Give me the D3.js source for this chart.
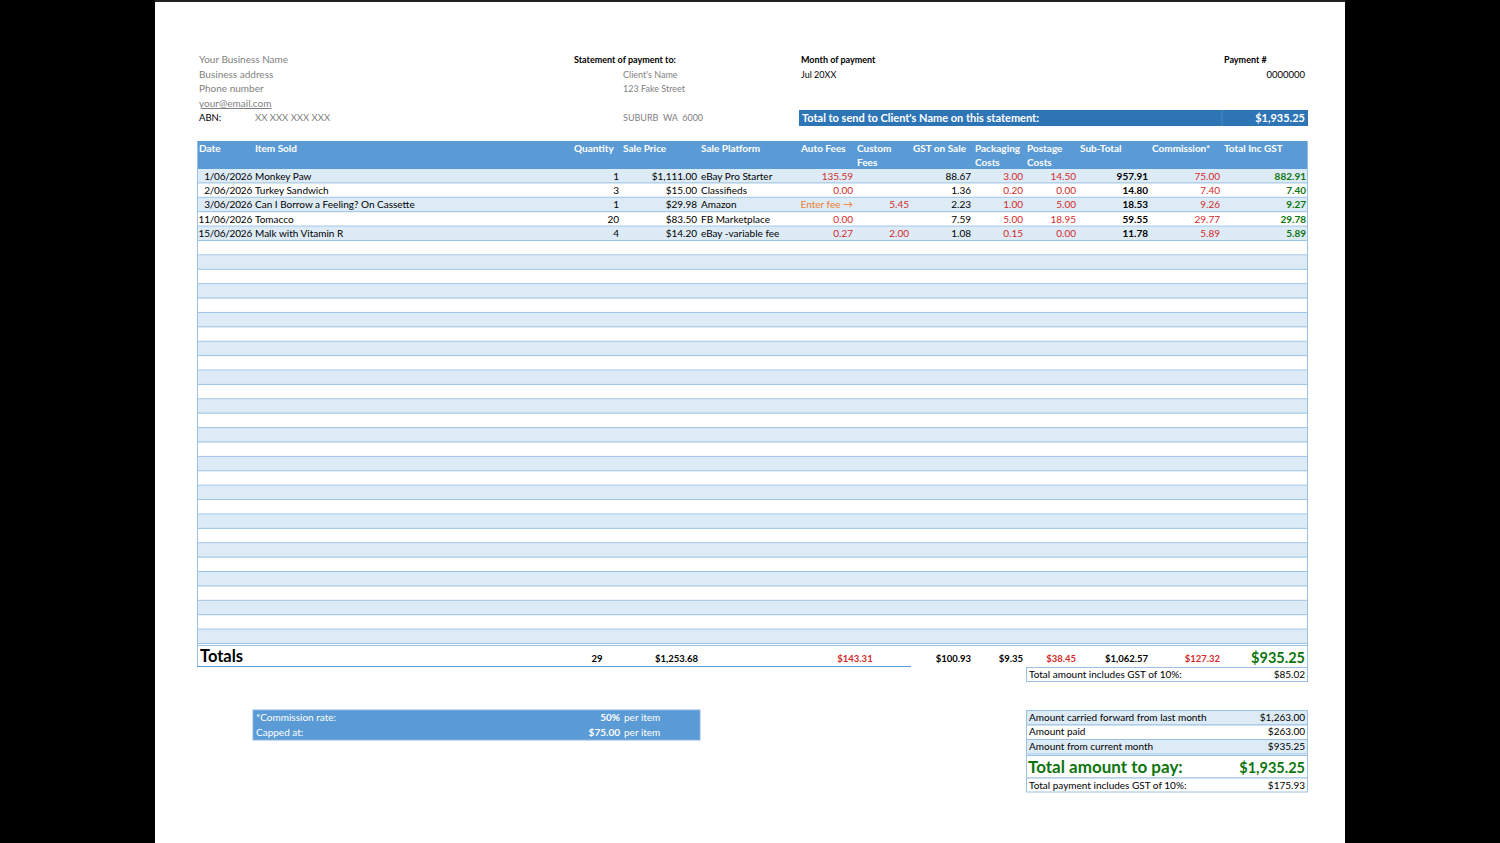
<!DOCTYPE html>
<html>
<head>
<meta charset="utf-8">
<script src="https://cdn.jsdelivr.net/npm/d3@7"></script>
<style>
  body { margin: 0; background: #000; }
  svg text { font-family: Lato, "Open Sans", sans-serif; }
</style>
</head>
<body>
<div id="chart"></div>
<script>
// data
const dates = ["1/06/2026", "2/06/2026", "3/06/2026", "11/06/2026", "15/06/2026"]
const items = ["Monkey Paw", "Turkey Sandwich", "Can I Borrow a Feeling? On Cassette", "Tomacco", "Malk with Vitamin R"]
const quantities = [1, 3, 1, 20, 4]
const salePrices = [1111.00, 15.00, 29.98, 83.50, 14.20]
const platforms = ["eBay Pro Starter", "Classifieds", "Amazon", "FB Marketplace", "eBay -variable fee"]
const autoFees = [135.59, 0.00, null, 0.00, 0.27]   // null = "Enter fee ->"
const customFees = [null, null, 5.45, null, 2.00]
const gstOnSale = [88.67, 1.36, 2.23, 7.59, 1.08]
const packagingCosts = [3.00, 0.20, 1.00, 5.00, 0.15]
const postageCosts = [14.50, 0.00, 5.00, 18.95, 0.00]
const subTotals = [957.91, 14.80, 18.53, 59.55, 11.78]
const commissions = [75.00, 7.40, 9.26, 29.77, 5.89]
const totalsIncGst = [882.91, 7.40, 9.27, 29.78, 5.89]

const totalsRow = [29, 1253.68, 143.31, 100.93, 9.35, 38.45, 1062.57, 127.32, 935.25]
const gstIncluded = 85.02
const summaryLabels = ["Amount carried forward from last month", "Amount paid", "Amount from current month"]
const summaryValues = [1263.00, 263.00, 935.25]
const totalToPay = 1935.25
const paymentGst = 175.93
const commissionRate = "50%"
const commissionCap = 75.00

// const
const width = 1500
const height = 843
const nRows = 33
const blue = "#5B9BD5", light = "#DDEBF7", line = "#9BC2E6", dark = "#2E75B6"
const red = "#D42A2A", green = "#0E750E", orange = "#EE7D31", grey = "#7F7F7F"

const money = d3.format("$,.2f")
const num = d3.format(",.2f")

const svg = d3.select("#chart")
  .append("svg")
    .attr("width", width)
    .attr("height", height)

// page
svg.append("rect").attr("x", 155).attr("y", 0).attr("width", 1190).attr("height", height).attr("fill", "#fff")
svg.append("rect").attr("x", 155).attr("y", 0).attr("width", 1190).attr("height", 2).attr("fill", "#222")

function txt(g, x, y, s, o = {}) {
  return g.append("text")
    .attr("x", x).attr("y", y)
    .attr("text-anchor", o.anchor || "start")
    .attr("font-size", o.size || 10)
    .attr("font-weight", o.bold ? "bold" : "normal")
    .attr("fill", o.color || "#000")
    .attr("letter-spacing", o.ls || null)
    .attr("text-decoration", o.underline ? "underline" : null)
    .text(s)
}

// header info
const info = svg.append("g")
txt(info, 199, 63, "Your Business Name", {color: grey})
txt(info, 199, 78, "Business address", {color: grey})
txt(info, 199, 92, "Phone number", {color: grey})
txt(info, 199, 107, "your@email.com", {color: grey, underline: true})
txt(info, 199, 121, "ABN:", {size: 9.5})
txt(info, 255, 121, "XX XXX XXX XXX", {color: grey, size: 9.5})
txt(info, 574, 63, "Statement of payment to:", {bold: true, size: 9})
txt(info, 623, 78, "Client's Name", {color: grey, size: 9})
txt(info, 623, 92, "123 Fake Street", {color: grey, size: 9})
txt(info, 623, 121, "SUBURB  WA  6000", {color: grey, size: 9}).style("white-space", "pre")
txt(info, 801, 63, "Month of payment", {bold: true, size: 9})
txt(info, 801, 78, "Jul 20XX", {size: 9})
txt(info, 1224, 63, "Payment #", {bold: true, size: 9})
txt(info, 1305, 78, "0000000", {size: 9.5, anchor: "end"})

info.append("rect").attr("x", 799).attr("y", 110).attr("width", 509).attr("height", 16).attr("fill", dark)
info.append("line").attr("x1", 1222).attr("x2", 1222).attr("y1", 110).attr("y2", 126).attr("stroke", "#4A88C4")
txt(info, 802, 122, "Total to send to Client's Name on this statement:", {bold: true, color: "#fff", size: 11})
txt(info, 1305, 122, money(totalToPay), {bold: true, color: "#fff", size: 11, anchor: "end"})

// columns
const columns = [
  {key: "date", head: ["Date"], x0: 197, x1: 254, align: "end", ls: -0.2},
  {key: "item", head: ["Item Sold"], x0: 253, x1: 572, align: "start"},
  {key: "qty", head: ["Quantity"], x0: 572, x1: 621, align: "end"},
  {key: "price", head: ["Sale Price"], x0: 621, x1: 699, align: "end"},
  {key: "platform", head: ["Sale Platform"], x0: 699, x1: 799, align: "start"},
  {key: "auto", head: ["Auto Fees"], x0: 799, x1: 855, align: "end", color: red},
  {key: "custom", head: ["Custom", "Fees"], x0: 855, x1: 911, align: "end", color: red},
  {key: "gst", head: ["GST on Sale"], x0: 911, x1: 973, align: "end"},
  {key: "pack", head: ["Packaging", "Costs"], x0: 973, x1: 1025, align: "end", color: red},
  {key: "post", head: ["Postage", "Costs"], x0: 1025, x1: 1078, align: "end", color: red},
  {key: "sub", head: ["Sub-Total"], x0: 1078, x1: 1150, align: "end", bold: true},
  {key: "comm", head: ["Commission*"], x0: 1150, x1: 1222, align: "end", color: red},
  {key: "total", head: ["Total Inc GST"], x0: 1222, x1: 1308, align: "end", color: green, bold: true}
]

const rows = dates.map((d, i) => ({
  date: d, item: items[i], qty: quantities[i], price: money(salePrices[i]), platform: platforms[i],
  auto: autoFees[i] == null ? "Enter fee \u2192" : num(autoFees[i]),
  custom: customFees[i] == null ? "" : num(customFees[i]),
  gst: num(gstOnSale[i]), pack: num(packagingCosts[i]), post: num(postageCosts[i]),
  sub: num(subTotals[i]), comm: num(commissions[i]), total: num(totalsIncGst[i])
}))

const tableLeft = 197, tableRight = 1308
const y = d3.scaleBand().domain(d3.range(nRows)).range([169, 644])

const table = svg.append("g")

// header bar
table.append("rect").attr("x", tableLeft).attr("y", 141).attr("width", tableRight - tableLeft).attr("height", 28).attr("fill", blue)
columns.forEach(c => {
  c.head.forEach((h, j) => txt(table, c.x0 + 2, 152 + j * 14, h, {bold: true, color: "#fff", size: 10}))
})

// body rows
table.selectAll(".row")
  .data(d3.range(nRows))
  .join("rect")
    .attr("class", "row")
    .attr("x", tableLeft)
    .attr("y", d => y(d))
    .attr("width", tableRight - tableLeft)
    .attr("height", y.bandwidth())
    .attr("fill", d => d % 2 === 0 ? light : "#fff")

table.selectAll(".hline")
  .data(d3.range(nRows))
  .join("line")
    .attr("class", "hline")
    .attr("x1", tableLeft).attr("x2", tableRight)
    .attr("y1", d => y(d) + y.bandwidth() - 0.5)
    .attr("y2", d => y(d) + y.bandwidth() - 0.5)
    .attr("stroke", line)

// double line under rows
table.append("line").attr("x1", tableLeft).attr("x2", tableRight).attr("y1", 645.5).attr("y2", 645.5).attr("stroke", line)

// outer borders
table.append("line").attr("x1", tableLeft + 0.5).attr("x2", tableLeft + 0.5).attr("y1", 141).attr("y2", 667).attr("stroke", line)
table.append("line").attr("x1", tableRight - 0.5).attr("x2", tableRight - 0.5).attr("y1", 141).attr("y2", 682).attr("stroke", line)

// cells
rows.forEach((r, i) => {
  columns.forEach(c => {
    const x = c.align === "end" ? c.x1 - 2 : c.x0 + 2
    let color = c.color || "#000"
    if (c.key === "auto" && autoFees[i] == null) color = orange
    txt(table, x, y(i) + y.bandwidth() / 2 + 3.5, r[c.key], {anchor: c.align, color: color, bold: c.bold, ls: c.ls})
  })
})

// totals row
const tot = svg.append("g")
const colX = k => columns.find(c => c.key === k)
txt(tot, 200, 662, "Totals", {bold: true, size: 16.5})
const totalCells = [
  {x: 597, v: String(totalsRow[0]), anchor: "middle"},
  {x: colX("price").x1 - 1, v: money(totalsRow[1])},
  {x: (colX("auto").x0 + colX("custom").x1) / 2, v: money(totalsRow[2]), color: red, anchor: "middle"},
  {x: colX("gst").x1 - 2, v: money(totalsRow[3])},
  {x: colX("pack").x1 - 2, v: money(totalsRow[4])},
  {x: colX("post").x1 - 2, v: money(totalsRow[5]), color: red},
  {x: colX("sub").x1 - 2, v: money(totalsRow[6])},
  {x: colX("comm").x1 - 2, v: money(totalsRow[7]), color: red}
]
totalCells.forEach(d => txt(tot, d.x, 662, d.v, {bold: true, size: 9.5, color: d.color, anchor: d.anchor || "end"}))
txt(tot, 1305, 663, money(totalsRow[8]), {bold: true, size: 14.5, color: green, anchor: "end"})
tot.append("line").attr("x1", tableLeft).attr("x2", 911).attr("y1", 666.5).attr("y2", 666.5).attr("stroke", blue).attr("stroke-width", 1.2)

// GST box
tot.append("rect").attr("x", 1026.5).attr("y", 667.5).attr("width", 281).attr("height", 14).attr("fill", "#fff").attr("stroke", line)
txt(tot, 1029, 678, "Total amount includes GST of 10%:")
txt(tot, 1305, 678, money(gstIncluded), {anchor: "end"})

// commission box
const cb = svg.append("g")
cb.append("rect").attr("x", 253).attr("y", 710).attr("width", 447).attr("height", 30).attr("fill", blue).attr("stroke", "#8DB4E2")
txt(cb, 256, 721, "*Commission rate:", {color: "#fff"})
txt(cb, 620, 721, commissionRate, {color: "#fff", bold: true, anchor: "end"})
txt(cb, 624, 721, "per item", {color: "#fff"})
txt(cb, 256, 736, "Capped at:", {color: "#fff"})
txt(cb, 620, 736, money(commissionCap), {color: "#fff", bold: true, anchor: "end"})
txt(cb, 624, 736, "per item", {color: "#fff"})

// summary box
const sb = svg.append("g")
const sy = d3.scaleBand().domain(d3.range(summaryLabels.length)).range([710, 753.5])
sb.selectAll(".srow")
  .data(summaryLabels)
  .join("rect")
    .attr("class", "srow")
    .attr("x", 1026.5)
    .attr("y", (d, i) => sy(i) + 0.5)
    .attr("width", 281)
    .attr("height", sy.bandwidth())
    .attr("fill", (d, i) => i % 2 === 0 ? light : "#fff")
    .attr("stroke", line)
summaryLabels.forEach((s, i) => {
  txt(sb, 1029, sy(i) + sy.bandwidth() / 2 + 3.5, s)
  txt(sb, 1305, sy(i) + sy.bandwidth() / 2 + 3.5, money(summaryValues[i]), {anchor: "end"})
})
sb.append("rect").attr("x", 1026.5).attr("y", 755.5).attr("width", 281).attr("height", 22.5).attr("fill", "#fff").attr("stroke", line)
txt(sb, 1028, 773, "Total amount to pay:", {bold: true, size: 17, color: green})
txt(sb, 1305, 773, money(totalToPay), {bold: true, size: 14.5, color: green, anchor: "end"})
sb.append("rect").attr("x", 1026.5).attr("y", 778).attr("width", 281).attr("height", 14).attr("fill", "#fff").attr("stroke", line)
txt(sb, 1029, 788.5, "Total payment includes GST of 10%:", {size: 10})
txt(sb, 1305, 788.5, money(paymentGst), {size: 10, anchor: "end"})
</script>
</body>
</html>
